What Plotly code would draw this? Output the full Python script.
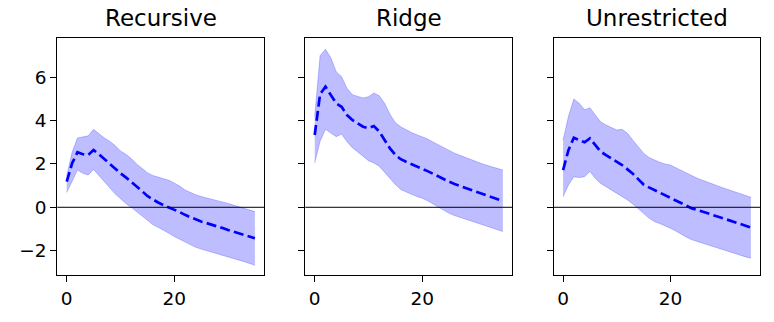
import plotly.graph_objects as go

horizon = list(range(36))

titles = ["Recursive", "Ridge", "Unrestricted"]

recursive_mean = [1.18, 2.03, 2.54, 2.45, 2.42, 2.64, 2.45, 2.22, 2.0, 1.78, 1.57, 1.38, 1.18, 0.98, 0.75, 0.52,
                  0.35, 0.22, 0.1, 0.0, -0.1, -0.22, -0.35, -0.46, -0.57, -0.66, -0.73, -0.8, -0.88, -0.96,
                  -1.05, -1.12, -1.2, -1.27, -1.35, -1.43]
recursive_upper = [1.45, 2.54, 3.2, 3.25, 3.3, 3.6, 3.4, 3.2, 3.05, 2.85, 2.6, 2.45, 2.25, 2.0, 1.8, 1.6,
                   1.47, 1.4, 1.35, 1.25, 1.12, 0.98, 0.8, 0.68, 0.58, 0.5, 0.44, 0.38, 0.32, 0.25,
                   0.18, 0.1, 0.02, -0.06, -0.14, -0.2]
recursive_lower = [0.68, 1.23, 1.72, 1.57, 1.49, 1.75, 1.45, 1.15, 0.9, 0.62, 0.38, 0.18, 0.0, -0.2, -0.4, -0.62,
                   -0.8, -0.92, -1.05, -1.2, -1.35, -1.48, -1.62, -1.75, -1.85, -1.93, -2.0, -2.07, -2.14, -2.2,
                   -2.27, -2.35, -2.43, -2.51, -2.59, -2.68]

ridge_mean = [3.34, 5.22, 5.57, 5.18, 4.8, 4.64, 4.26, 4.03, 3.88, 3.72, 3.65, 3.75, 3.5, 3.1, 2.72, 2.42,
              2.22, 2.1, 2.0, 1.9, 1.8, 1.67, 1.55, 1.42, 1.3, 1.18, 1.08, 0.98, 0.9, 0.81,
              0.72, 0.63, 0.55, 0.46, 0.38, 0.29]
ridge_upper = [4.2, 7.0, 7.3, 6.9, 6.26, 6.03, 5.5, 5.2, 5.12, 5.05, 5.1, 5.28, 5.15, 4.8, 4.3, 3.9,
               3.72, 3.57, 3.45, 3.35, 3.26, 3.15, 3.02, 2.88, 2.75, 2.63, 2.5, 2.4, 2.3, 2.2,
               2.1, 2.02, 1.94, 1.86, 1.78, 1.72]
ridge_lower = [2.05, 3.05, 3.6, 3.45, 3.26, 3.38, 3.03, 2.75, 2.57, 2.36, 2.15, 2.05, 1.9, 1.6, 1.3, 1.05,
               0.82, 0.7, 0.6, 0.5, 0.42, 0.3, 0.15, 0.0, -0.15, -0.28, -0.38, -0.46, -0.55, -0.62,
               -0.7, -0.78, -0.87, -0.95, -1.03, -1.12]

unrestricted_mean = [1.72, 2.64, 3.21, 3.1, 3.0, 3.18, 2.87, 2.57, 2.41, 2.26, 2.1, 1.95, 1.75, 1.55, 1.3, 1.05,
                     0.92, 0.8, 0.68, 0.55, 0.42, 0.3, 0.18, 0.06, -0.05, -0.12, -0.2, -0.28, -0.36, -0.43,
                     -0.5, -0.58, -0.67, -0.76, -0.85, -0.94]
unrestricted_upper = [3.1, 4.2, 5.0, 4.8, 4.5, 4.6, 4.26, 3.95, 3.8, 3.67, 3.57, 3.6, 3.42, 3.1, 2.8, 2.5,
                      2.3, 2.18, 2.08, 2.0, 1.95, 1.83, 1.7, 1.58, 1.45, 1.34, 1.25, 1.15, 1.05, 0.96,
                      0.88, 0.8, 0.72, 0.63, 0.55, 0.46]
unrestricted_lower = [0.49, 1.03, 1.41, 1.37, 1.41, 1.65, 1.34, 1.1, 0.95, 0.8, 0.65, 0.5, 0.34, 0.15, -0.05, -0.28,
                      -0.5, -0.66, -0.75, -0.85, -0.97, -1.1, -1.25, -1.38, -1.5, -1.58, -1.67, -1.75, -1.84, -1.92,
                      -2.0, -2.08, -2.15, -2.22, -2.29, -2.35]

x_ticks = [0, 20]
y_ticks = [-2, 0, 2, 4, 6]

panels = [
    (recursive_mean, recursive_upper, recursive_lower),
    (ridge_mean, ridge_upper, ridge_lower),
    (unrestricted_mean, unrestricted_upper, unrestricted_lower),
]

W, H = 774, 322
x_px = [(57.3, 264.3), (305.3, 512.3), (553.7, 760.3)]
y_top, y_bot = 37.7, 275.3

fig = go.Figure()
band_fill = "rgba(0,0,255,0.26)"
band_line = "rgba(0,0,255,0.22)"

for i, (mean, upper, lower) in enumerate(panels):
    n = "" if i == 0 else str(i + 1)
    xa, ya = "x" + n, "y" + n
    fig.add_trace(go.Scatter(x=horizon, y=lower, mode="lines", line=dict(color=band_line, width=1),
                             xaxis=xa, yaxis=ya, showlegend=False, hoverinfo="skip"))
    fig.add_trace(go.Scatter(x=horizon, y=upper, mode="lines", line=dict(color=band_line, width=1),
                             fill="tonexty", fillcolor=band_fill,
                             xaxis=xa, yaxis=ya, showlegend=False, hoverinfo="skip"))
    fig.add_trace(go.Scatter(x=horizon, y=mean, mode="lines",
                             line=dict(color="#0000ff", width=2.7, dash="10px,4.3px"),
                             xaxis=xa, yaxis=ya, showlegend=False))
    fig.add_shape(type="line", xref=xa + " domain", yref=ya, x0=0, x1=1, y0=0, y1=0,
                  line=dict(color="black", width=1.0), layer="above")

    axis_common = dict(showgrid=False, zeroline=False, showline=True, mirror=True,
                       linecolor="black", linewidth=1.3, ticks="outside", ticklen=6,
                       tickwidth=1.3, tickcolor="black", automargin=False,
                       tickfont=dict(family="DejaVu Sans", size=18.5, color="black"))
    x0, x1 = x_px[i]
    fig.update_layout(**{
        "xaxis" + n: dict(domain=[x0 / W, x1 / W], range=[-1.75, 36.75], tickvals=x_ticks,
                          anchor=ya, **axis_common),
        "yaxis" + n: dict(domain=[(H - y_bot) / H, (H - y_top) / H], range=[-3.14, 7.83],
                          tickvals=y_ticks, showticklabels=(i == 0), anchor=xa, **axis_common),
    })
    fig.add_annotation(text=titles[i], xref="paper", yref="paper", x=(x0 + x1) / 2 / W,
                       y=1 - 18.5 / H, xanchor="center", yanchor="middle", showarrow=False,
                       font=dict(family="DejaVu Sans", size=23, color="black"))

fig.update_layout(width=W, height=H, margin=dict(l=0, r=0, t=0, b=0),
                  plot_bgcolor="white", paper_bgcolor="white")

fig.write_html("out.html", config={"displayModeBar": False},
               post_script="document.body.style.margin='0px';document.body.style.overflow='hidden';")
